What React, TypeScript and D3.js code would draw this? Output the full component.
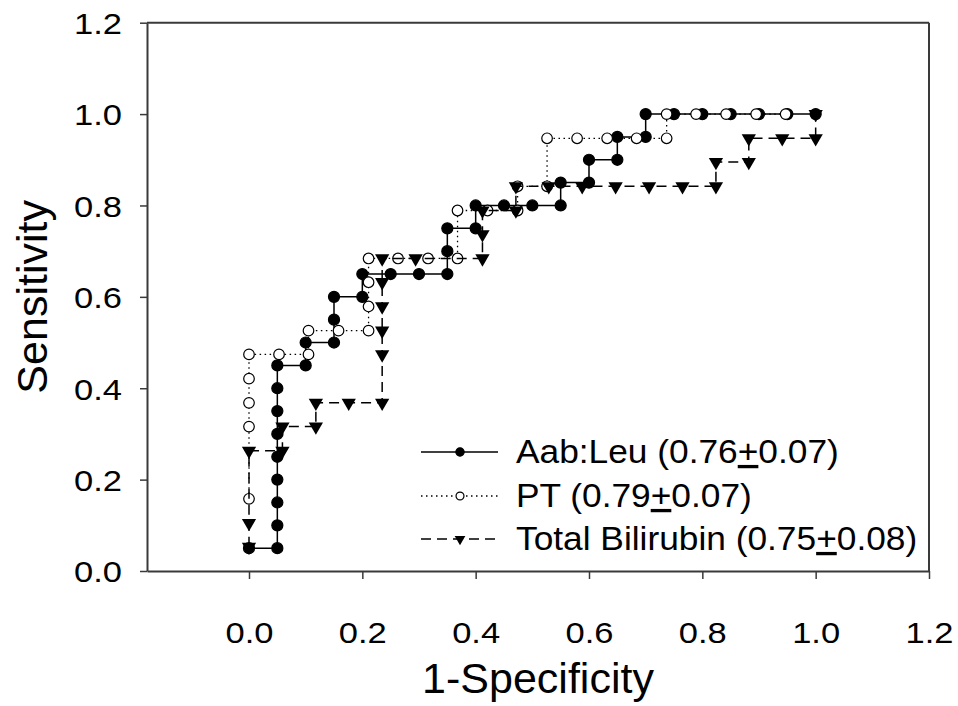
import React, { useEffect, useRef } from 'react';
import * as d3 from 'd3';

// ROC points: [1-specificity, sensitivity]
const aabLeu: [number, number][] = [
  [0, 0.05], [0.05, 0.05], [0.05, 0.1], [0.05, 0.15], [0.05, 0.2], [0.05, 0.25],
  [0.05, 0.3], [0.05, 0.35], [0.05, 0.4], [0.05, 0.45], [0.1, 0.45], [0.1, 0.5],
  [0.15, 0.5], [0.15, 0.55], [0.15, 0.6], [0.2, 0.6], [0.2, 0.65], [0.25, 0.65],
  [0.3, 0.65], [0.35, 0.65], [0.35, 0.7], [0.35, 0.75], [0.4, 0.75], [0.4, 0.8],
  [0.45, 0.8], [0.5, 0.8], [0.55, 0.8], [0.55, 0.85], [0.6, 0.85], [0.6, 0.9],
  [0.65, 0.9], [0.65, 0.95], [0.7, 0.95], [0.7, 1.0], [0.75, 1.0], [0.8, 1.0],
  [0.85, 1.0], [0.9, 1.0], [0.95, 1.0], [1.0, 1.0],
];

const pt: [number, number][] = [
  [0, 0.158], [0, 0.316], [0, 0.368], [0, 0.421], [0, 0.474], [0.053, 0.474],
  [0.105, 0.474], [0.105, 0.526], [0.158, 0.526], [0.211, 0.526], [0.211, 0.579],
  [0.211, 0.632], [0.211, 0.684], [0.263, 0.684], [0.316, 0.684], [0.368, 0.684],
  [0.368, 0.789], [0.421, 0.789], [0.474, 0.789], [0.474, 0.842], [0.526, 0.842],
  [0.526, 0.947], [0.579, 0.947], [0.632, 0.947], [0.684, 0.947], [0.737, 0.947],
  [0.737, 1.0], [0.789, 1.0], [0.842, 1.0], [0.895, 1.0], [0.947, 1.0],
];

const totalBilirubin: [number, number][] = [
  [0, 0.053], [0, 0.105], [0, 0.263], [0.059, 0.263], [0.059, 0.316], [0.118, 0.316],
  [0.118, 0.368], [0.176, 0.368], [0.235, 0.368], [0.235, 0.474], [0.235, 0.526],
  [0.235, 0.579], [0.235, 0.632], [0.235, 0.684], [0.294, 0.684], [0.412, 0.684],
  [0.412, 0.737], [0.412, 0.789], [0.471, 0.789], [0.471, 0.842], [0.529, 0.842],
  [0.588, 0.842], [0.647, 0.842], [0.706, 0.842], [0.765, 0.842], [0.824, 0.842],
  [0.824, 0.895], [0.882, 0.895], [0.882, 0.947], [0.941, 0.947], [1.0, 0.947],
  [1.0, 1.0],
];

const seriesNames = ['Aab:Leu', 'PT', 'Total Bilirubin'];
const aucValues = ['0.76', '0.79', '0.75'];
const aucErrors = ['0.07', '0.07', '0.08'];

const xTicks = [0, 0.2, 0.4, 0.6, 0.8, 1.0, 1.2];
const yTicks = [0, 0.2, 0.4, 0.6, 0.8, 1.0, 1.2];

const width = 958;
const height = 706;
const plot = { left: 147, right: 929, top: 22.7, bottom: 571 };
const font = "'Liberation Sans', Arial, sans-serif";
const axisColor = '#3a3a3a';

export default function App() {
  const svgRef = useRef<SVGSVGElement>(null);

  useEffect(() => {
    const svg = d3.select(svgRef.current);
    svg.selectAll('*').remove();

    const x = d3.scaleLinear().domain([-0.18, 1.2]).range([plot.left, plot.right]);
    const y = d3.scaleLinear().domain([0, 1.2]).range([plot.bottom, plot.top]);

    // frame (top + right)
    svg.append('line')
      .attr('x1', x(-0.18)).attr('x2', x(1.2))
      .attr('y1', y(1.2)).attr('y2', y(1.2))
      .attr('stroke', axisColor).attr('stroke-width', 2);
    svg.append('line')
      .attr('x1', x(1.2)).attr('x2', x(1.2))
      .attr('y1', y(1.2)).attr('y2', y(0))
      .attr('stroke', axisColor).attr('stroke-width', 2);

    const xAxisG = svg.append('g')
      .attr('transform', `translate(0, ${plot.bottom})`)
      .call(d3.axisBottom(x).tickValues(xTicks).tickSize(8).tickSizeOuter(0).tickFormat(d3.format('.1f')));

    const yAxisG = svg.append('g')
      .attr('transform', `translate(${plot.left}, 0)`)
      .call(d3.axisLeft(y).tickValues(yTicks).tickSize(7).tickSizeOuter(0).tickFormat(d3.format('.1f')));

    [xAxisG, yAxisG].forEach(g => {
      g.select('.domain').attr('stroke', axisColor).attr('stroke-width', 2);
      g.selectAll('.tick line').attr('stroke', axisColor).attr('stroke-width', 1.5);
      g.selectAll('.tick text')
        .attr('fill', '#000')
        .style('font-family', font)
        .style('font-size', '30px')
        .attr('textLength', 48)
        .attr('lengthAdjust', 'spacingAndGlyphs');
    });
    xAxisG.selectAll('.tick text').attr('y', 72).attr('dy', null);
    yAxisG.selectAll('.tick text').attr('x', -25).attr('dy', '0.36em');

    // axis titles
    svg.append('text')
      .attr('x', (plot.left + plot.right) / 2).attr('y', 693)
      .attr('text-anchor', 'middle')
      .style('font-family', font).style('font-size', '43px')
      .text('1-Specificity');
    svg.append('text')
      .attr('transform', `translate(47, ${(plot.top + plot.bottom) / 2}) rotate(-90)`)
      .attr('text-anchor', 'middle')
      .style('font-family', font).style('font-size', '43px')
      .text('Sensitivity');

    const line = d3.line<[number, number]>().x(d => x(d[0])).y(d => y(d[1]));

    const circle = d3.symbol().type(d3.symbolCircle);
    const triangle = d3.symbol().type(d3.symbolTriangle);

    const styles = [
      { data: aabLeu, dash: null, lw: 1.5, kind: 'filled' },
      { data: pt, dash: '1.5,3.5', lw: 1.3, kind: 'open' },
      { data: totalBilirubin, dash: '10,6', lw: 1.5, kind: 'tri' },
    ];

    const drawMarker = (g: any, kind: string, cx: number, cy: number, scale: number) => {
      if (kind === 'tri') {
        g.append('path')
          .attr('d', triangle.size(88 * scale * scale)())
          .attr('transform', `translate(${cx}, ${cy}) rotate(180)`)
          .attr('fill', '#000');
      } else {
        g.append('path')
          .attr('d', circle.size((kind === 'open' ? 88 : 96) * scale * scale)())
          .attr('transform', `translate(${cx}, ${cy})`)
          .attr('fill', kind === 'open' ? '#fff' : '#000')
          .attr('stroke', '#000')
          .attr('stroke-width', 1.2);
      }
    };

    styles.forEach(s => {
      const g = svg.append('g');
      g.append('path')
        .attr('d', line(s.data))
        .attr('fill', 'none')
        .attr('stroke', '#000')
        .attr('stroke-width', s.lw)
        .attr('stroke-dasharray', s.dash);
      s.data.forEach(d => drawMarker(g, s.kind, x(d[0]), y(d[1]), 1));
    });

    // legend
    const baselines = [463, 507, 550];
    styles.forEach((s, i) => {
      const g = svg.append('g');
      const ly = baselines[i] - 11;
      g.append('line')
        .attr('x1', 421).attr('x2', 498)
        .attr('y1', ly).attr('y2', ly)
        .attr('stroke', '#000')
        .attr('stroke-width', s.lw)
        .attr('stroke-dasharray', s.dash);
      drawMarker(g, s.kind, 460, ly, 0.75);
      const t = g.append('text')
        .attr('transform', `translate(516, ${baselines[i]}) scale(1.07, 1)`)
        .style('font-family', font).style('font-size', '33px');
      t.append('tspan').text(`${seriesNames[i]} (${aucValues[i]}`);
      t.append('tspan').style('text-decoration', 'underline').text('+');
      t.append('tspan').text(`${aucErrors[i]})`);
    });
  }, []);

  return (
    <svg
      ref={svgRef}
      width={width}
      height={height}
      style={{ position: 'absolute', left: 0, top: 0, background: '#fff' }}
    />
  );
}
